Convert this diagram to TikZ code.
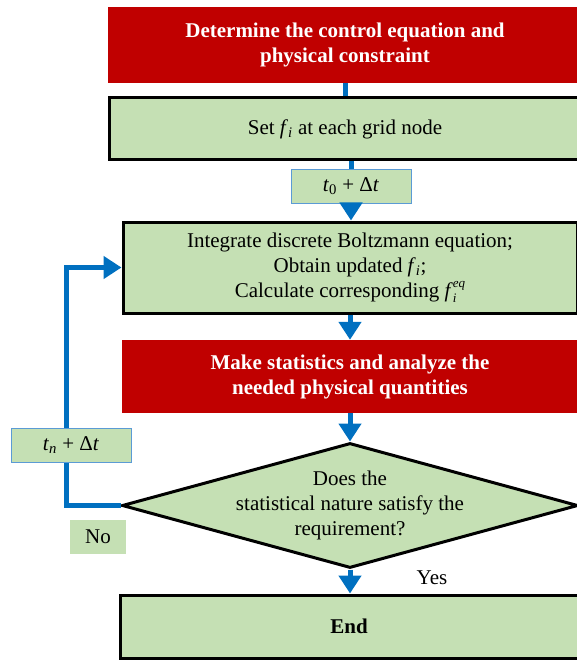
\documentclass[tikz,border=0pt]{standalone}
\usepackage{fontspec}
\setmainfont{Liberation Serif}
\usetikzlibrary{arrows.meta,shapes.geometric}
\definecolor{boxred}{HTML}{C00000}
\definecolor{boxgreen}{HTML}{C5E0B4}
\definecolor{flowblue}{HTML}{0070C0}
\definecolor{labblue}{HTML}{5B9BD5}
\newcommand\fsub{\textit{f}\textsubscript{\textit{i}}}
\newcommand\fsubeq{\textit{f}\rlap{\raisebox{-5pt}{\fontsize{13}{13}\selectfont\textit{i}}}%
  \raisebox{10pt}{\fontsize{13}{13}\selectfont\textit{eq}}}
\tikzset{gbox/.style={
    rectangle,
    align=center,
    inner sep=0pt,
    font=\fontsize{21}{25}\selectfont
  },
  redbox/.style={gbox,fill=boxred,text=white,font=\fontsize{21}{25}\selectfont\bfseries},
  greenbox/.style={gbox,fill=boxgreen,draw=black,line width=3pt},
  labbox/.style={gbox,fill=boxgreen,draw=labblue,line width=1pt,minimum width=120pt,minimum height=34pt},
  nobox/.style={gbox,fill=boxgreen,minimum width=56pt,minimum height=34pt},
  decbox/.style={diamond,fill=boxgreen,draw=black,line width=3pt,
    minimum width=456pt,minimum height=125pt,inner sep=0pt},
  flow/.style={flowblue,line width=5pt},
  flowarr/.style={flow,-{Triangle[width=22pt,length=18pt]}},
}
\begin{document}
\begin{tikzpicture}[x=1pt,y=-1pt]
  \useasboundingbox (0,0) rectangle (577,660);
  \clip (0,0) rectangle (577,660);
  \node [redbox,minimum width=474pt,minimum height=76pt] (ctrl) at (345,45)
    {Determine the control equation and\\physical constraint};
  \node [greenbox,minimum width=472pt,minimum height=62pt] (init) at (345,129)
    {Set \fsub{} at each grid node};
  \node [labbox] (tzero) at (351,186.5) {\textit{t}\textsubscript{0} + Δ\textit{t}};
  \node [greenbox,minimum width=454pt,minimum height=91pt] (integ) at (350,267.5)
    {Integrate discrete Boltzmann equation;\\Obtain updated \fsub;\\Calculate corresponding \fsubeq};
  \node [redbox,minimum width=456pt,minimum height=73pt] (stats) at (350,376.5)
    {Make statistics and analyze the\\needed physical quantities};
  \node [decbox,label={[gbox]center:{Does the\\statistical nature satisfy the\\requirement?}}]
    (check) at (350,505.5) {};
  \node [greenbox,minimum width=458pt,minimum height=63pt] (finish) at (349,626.5) {\textbf{End}};
  \node [gbox] (yes) at (432,578) {Yes};
  \draw[flow] (ctrl.south) -- (init.north);
  \draw[flow] (init.south -| tzero.north) -- (tzero.north);
  \draw[flowarr] (tzero.south) -- (integ.north -| tzero.south);
  \draw[flowarr] (integ.south) -- (stats.north);
  \draw[flowarr] (stats.south) -- (check.north);
  \draw[flowarr] (check.south) -- (finish.north -| check.south);
  \draw[flowarr] (check.west) -- ++(-54,0) |- (integ.west);
  \node [labbox] (tn) at (71,445) {\textit{t}\textsubscript{\textit{n}} + Δ\textit{t}};
  \node [nobox] (no) at (98,537) {No};
\end{tikzpicture}
\end{document}
